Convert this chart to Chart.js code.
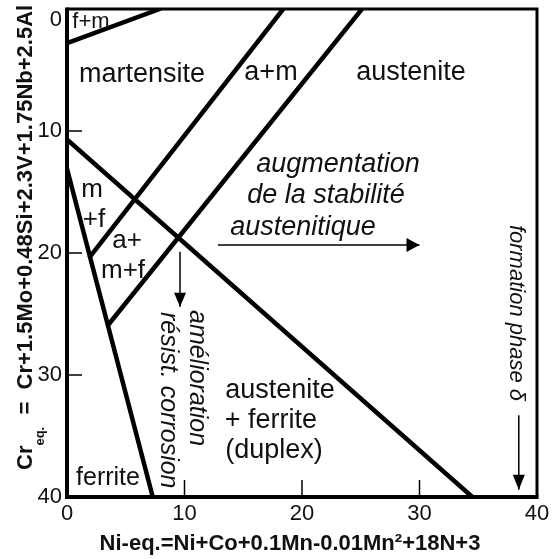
<!DOCTYPE html>
<html>
<head>
<meta charset="utf-8">
<script src="https://cdn.jsdelivr.net/npm/chart.js@4.4.0/dist/chart.umd.min.js"></script>
<style>
  html, body { margin: 0; padding: 0; background: #fff; }
  #wrap { width: 552px; height: 559px; position: relative; }
</style>
</head>
<body>
<div id="wrap"><canvas id="diagram"></canvas></div>
<script>
// axis ticks (Ni-eq along x, Cr-eq along y, y grows downwards)
const xTicks = [0, 10, 20, 30, 40];
const yTicks = [0, 10, 20, 30, 40];

// phase boundaries
const fmLine = [{x: 0, y: 2.8}, {x: 7.9, y: 0}];
const martLine = [{x: 1.96, y: 20.3}, {x: 18.4, y: 0}];
const austLine = [{x: 3.5, y: 25.9}, {x: 25.1, y: 0}];
const duplexLine = [{x: 0, y: 10.7}, {x: 34.5, y: 40}];
const ferriteLine = [{x: 0, y: 13.1}, {x: 7.3, y: 40}];

// arrows: tail, tip
const arrowCorrosion = [{x: 9.62, y: 19.9}, {x: 9.62, y: 24.4}];
const arrowStability = [{x: 12.85, y: 19.34}, {x: 30.0, y: 19.34}];
const arrowDelta = [{x: 38.45, y: 33.3}, {x: 38.45, y: 39.4}];

// region names (centre x, baseline y)
const labelText = ['f+m', 'martensite', 'a+m', 'austenite', 'm', '+f', 'a+', 'm+f', 'austenite', '+ ferrite', '(duplex)', 'ferrite'];
const labelX = [2.04, 6.38, 17.36, 29.28, 2.13, 2.30, 5.11, 4.77, 18.13, 17.36, 17.62, 3.49];
const labelY = [1.56, 5.98, 5.82, 5.82, 15.41, 17.87, 19.59, 22.05, 31.89, 34.34, 36.80, 39.02];

// italic notes
const noteText = ['augmentation', 'de la stabilité', 'austenitique'];
const noteX = [23.06, 22.04, 20.09];
const noteY = [13.36, 15.9, 18.52];

// vertical notes, read top to bottom (baseline x, start y)
const vNoteText = ['amélioration', 'résist. corrosion', 'formation phase δ'];
const vNoteX = [10.47, 8.0, 37.7];
const vNoteY = [24.67, 24.84, 17.7];

const xTitle = 'Ni-eq.=Ni+Co+0.1Mn-0.01Mn²+18N+3';
const yTitle = ['Cr', 'eq.', '  =  Cr+1.5Mo+0.48Si+2.3V+1.75Nb+2.5Al'];

const FONT = '"Liberation Sans", Arial, Helvetica, sans-serif';

function boundary(data) {
    return { data: data, showLine: true, borderColor: '#000', borderWidth: 4.5, pointRadius: 0, borderCapStyle: 'round' };
}
function shaft(data) {
    return { data: data, showLine: true, borderColor: '#000', borderWidth: 1.5, pointRadius: 0 };
}

function arrowHead(ctx, x0, y0, x1, y1, len, half) {
    const d = Math.hypot(x1 - x0, y1 - y0);
    const ux = (x1 - x0) / d, uy = (y1 - y0) / d;
    const bx = x1 - ux * len, by = y1 - uy * len;
    ctx.beginPath();
    ctx.moveTo(x1, y1);
    ctx.lineTo(bx - uy * half, by + ux * half);
    ctx.lineTo(bx + uy * half, by - ux * half);
    ctx.closePath();
    ctx.fill();
}

const drawings = {
    id: 'drawings',
    afterDatasetsDraw(chart) {
        const ctx = chart.ctx;
        const a = chart.chartArea;
        const x = chart.scales.x, y = chart.scales.y;
        ctx.save();
        ctx.strokeStyle = '#000';
        ctx.fillStyle = '#111';

        // frame
        const L = x.getPixelForValue(0), R = x.getPixelForValue(40);
        const T = y.getPixelForValue(0), B = y.getPixelForValue(40);
        ctx.lineWidth = 4;
        ctx.beginPath();
        ctx.moveTo(L, T - 1.5); ctx.lineTo(L, B); ctx.lineTo(R + 1.5, B);
        ctx.stroke();
        ctx.lineWidth = 3;
        ctx.beginPath();
        ctx.moveTo(L, T); ctx.lineTo(R, T); ctx.lineTo(R, B);
        ctx.stroke();

        // inner tick marks
        ctx.lineWidth = 1.5;
        xTicks.slice(1, -1).forEach(v => {
            const px = x.getPixelForValue(v);
            ctx.beginPath(); ctx.moveTo(px, B); ctx.lineTo(px, B - 17); ctx.stroke();
        });
        yTicks.slice(1, -1).forEach(v => {
            const py = y.getPixelForValue(v);
            ctx.beginPath(); ctx.moveTo(L, py); ctx.lineTo(L + 15, py); ctx.stroke();
        });

        // arrow heads
        ctx.fillStyle = '#000';
        [[arrowCorrosion, 14, 6], [arrowStability, 13, 7], [arrowDelta, 15, 6]].forEach(([p, len, half]) => {
            arrowHead(ctx, x.getPixelForValue(p[0].x), y.getPixelForValue(p[0].y),
                x.getPixelForValue(p[1].x), y.getPixelForValue(p[1].y), len, half);
        });

        // region names
        ctx.fillStyle = '#111';
        ctx.textAlign = 'center';
        ctx.textBaseline = 'alphabetic';
        labelText.forEach((t, i) => {
            let size = 27;
            if (t === 'f+m') size = 22;
            else if (['m', '+f', 'a+', 'm+f'].includes(t)) size = 26;
            else if (t === 'ferrite') size = 25;
            ctx.font = size + 'px ' + FONT;
            ctx.fillText(t, x.getPixelForValue(labelX[i]), y.getPixelForValue(labelY[i]));
        });

        ctx.font = 'italic 27px ' + FONT;
        noteText.forEach((t, i) => {
            ctx.fillText(t, x.getPixelForValue(noteX[i]), y.getPixelForValue(noteY[i]));
        });

        ctx.textAlign = 'left';
        vNoteText.forEach((t, i) => {
            ctx.save();
            ctx.translate(x.getPixelForValue(vNoteX[i]), y.getPixelForValue(vNoteY[i]));
            ctx.rotate(Math.PI / 2);
            ctx.font = (i === 2 ? 'italic 22px ' : 'italic 25px ') + FONT;
            ctx.fillText(t, 0, 0);
            ctx.restore();
        });

        // axis titles
        ctx.font = 'bold 22px ' + FONT;
        ctx.textAlign = 'center';
        ctx.fillText(xTitle, (a.left + a.right) / 2 - 12, 550);

        ctx.save();
        ctx.translate(32, 470);
        ctx.rotate(-Math.PI / 2);
        ctx.textAlign = 'left';
        ctx.font = 'bold 22px ' + FONT;
        ctx.fillText(yTitle[0], 0, 0);
        let off = ctx.measureText(yTitle[0]).width;
        ctx.font = 'bold 13px ' + FONT;
        ctx.fillText(yTitle[1], off, 12);
        off += ctx.measureText(yTitle[1]).width;
        ctx.font = 'bold 22px ' + FONT;
        ctx.fillText(yTitle[2], off, 0);
        ctx.restore();

        ctx.restore();
    }
};

new Chart(document.getElementById('diagram'), {
    type: 'scatter',
    data: {
        datasets: [
            boundary(fmLine), boundary(martLine), boundary(austLine),
            boundary(duplexLine), boundary(ferriteLine),
            shaft(arrowCorrosion), shaft(arrowStability), shaft(arrowDelta)
        ]
    },
    options: {
        responsive: true,
        maintainAspectRatio: false,
        animation: false,
        events: [],
        layout: { padding: { left: 0, top: 9, right: 15, bottom: 0 } },
        plugins: { legend: { display: false }, tooltip: { enabled: false } },
        scales: {
            x: {
                type: 'linear', min: 0, max: 40,
                afterBuildTicks: s => { s.ticks = xTicks.map(v => ({ value: v })); },
                grid: { display: false, drawTicks: false },
                border: { display: false },
                ticks: { font: { family: FONT, size: 22 }, color: '#111', padding: 4, maxRotation: 0, autoSkip: false },
                afterFit: s => { s.height = 62; s.paddingLeft = 0; s.paddingRight = 0; }
            },
            y: {
                type: 'linear', min: 0, max: 40, reverse: true,
                afterBuildTicks: s => { s.ticks = yTicks.map(v => ({ value: v })); },
                grid: { display: false, drawTicks: false },
                border: { display: false },
                ticks: {
                    font: { family: FONT, size: 22, lineHeight: 1.0 }, color: '#111', padding: 5, autoSkip: false,
                    // the top label sits just under the frame in the original
                    callback: v => (v === 0 ? ['', '0'] : String(v))
                },
                afterFit: s => { s.width = 67; s.paddingTop = 0; s.paddingBottom = 0; }
            }
        }
    },
    plugins: [drawings]
});
</script>
</body>
</html>
